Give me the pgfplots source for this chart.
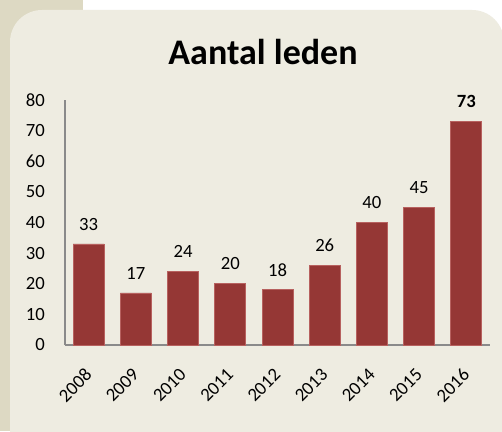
\documentclass[border=0pt]{standalone}
\usepackage{pgfplots}
\pgfplotsset{compat=1.18}
\usepackage{fontspec}
\setmainfont{Carlito}
\definecolor{stripc}{HTML}{DDD9C3}
\definecolor{panelc}{HTML}{EEECE1}
\definecolor{barc}{HTML}{953735}
\definecolor{baredge}{HTML}{B7615F}
\definecolor{axisc}{HTML}{8A8A8A}
\begin{document}
\begin{tikzpicture}[x=0.75pt,y=0.75pt]
\useasboundingbox (0,0) rectangle (502,431);
\fill[white] (0,0) rectangle (502,431);
\fill[stripc] (0,0) rectangle (83,431);
\fill[panelc] (10,-2) [rounded corners=24] -- (10,421) -- (504,421) [sharp corners] -- (504,-2) -- cycle;
\node[anchor=base, font=\bfseries\fontsize{27}{30}\selectfont, inner sep=0pt] at (263,366) {Aantal leden};
\coordinate (A) at (65,86);
\begin{axis}[
  at={(A)}, anchor=south west,
  scale only axis, width=318.75pt, height=183.75pt,
  ybar, bar width=23.25pt, bar shift=0pt,
  xmin=-0.5, xmax=8.5, ymin=0, ymax=80,
  xtick={0,...,8},
  xticklabels={2008,2009,2010,2011,2012,2013,2014,2015,2016},
  ytick={0,10,...,80},
  axis x line*=bottom, axis y line*=left,
  axis line style={axisc, line width=0.8pt, -},
  major tick length=0pt,
  /pgf/number format/assume math mode=true,
  tick label style={font=\fontsize{14}{16}\selectfont, text=black},
  yticklabel style={anchor=east, inner sep=0pt},
  yticklabel shift=15pt,
  xticklabel style={anchor=east, rotate=45, inner sep=0pt},
  xticklabel shift=20pt,
  nodes near coords,
  every node near coord/.append style={anchor=south, inner sep=0pt, yshift=10pt, font=\fontsize{14}{16}\selectfont, text=black, /pgf/number format/assume math mode=true},
  clip=false,
]
\addplot[fill=barc, draw=baredge, line width=0.6pt] coordinates {(0,33) (1,17) (2,24) (3,20) (4,18) (5,26) (6,40) (7,45)};
\addplot[fill=barc, draw=baredge, line width=0.6pt, every node near coord/.append style={font=\bfseries\fontsize{14}{16}\selectfont}] coordinates {(8,73)};
\end{axis}
\end{tikzpicture}
\end{document}
